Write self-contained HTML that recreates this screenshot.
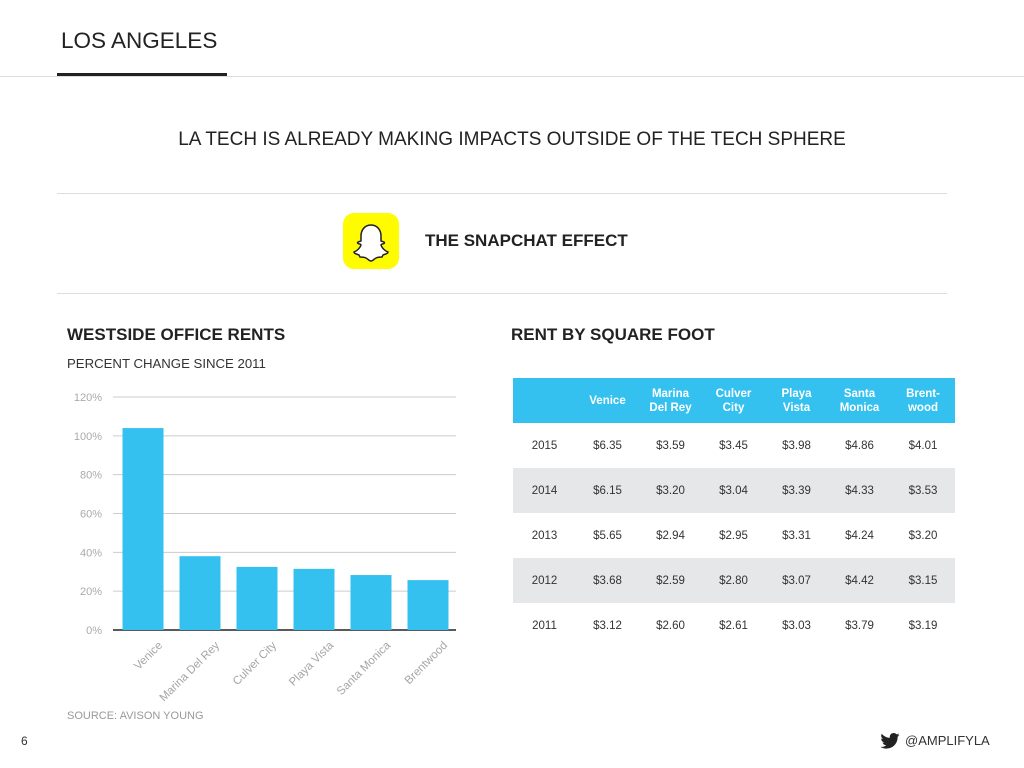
<!DOCTYPE html>
<html><head><meta charset="utf-8"><style>
body{margin:0;width:1024px;height:768px;background:#fff;font-family:"Liberation Sans",sans-serif;position:relative;overflow:hidden;color:#222}
.a{position:absolute}
table{border-collapse:collapse;font-size:11.5px;color:#333}
td,th{text-align:center;padding:0;height:45px}
th{background:#35c1ef;color:#fff;font-weight:bold;font-size:11.5px;height:45px;line-height:14px}
tr.g td{background:#e6e7e9}
</style></head><body>
<div class="a" style="left:61px;top:28px;font-size:22.5px;color:#222">LOS ANGELES</div>
<div class="a" style="left:57px;top:73px;width:170px;height:3px;background:#222"></div>
<div class="a" style="left:0;top:76px;width:1024px;height:1px;background:#ddd"></div>
<div class="a" style="left:0;width:1024px;top:129px;text-align:center;font-size:19px;color:#222">LA TECH IS ALREADY MAKING IMPACTS OUTSIDE OF THE TECH SPHERE</div>
<div class="a" style="left:57px;top:193px;width:890px;height:1px;background:#ddd"></div>
<div class="a" style="left:57px;top:293px;width:890px;height:1px;background:#ddd"></div>
<svg class="a" style="left:343px;top:213px" width="56" height="56" viewBox="0 0 56 56"><rect width="56" height="56" rx="11" fill="#fffc00"/><path d="M28 12c-7 0-10 6-10 11v5l-3 1c-1 1 0 2 2 2l1 1c-1 3-4 6-7 7 0 2 3 2 5 3l1 2c2 0 4 0 6 1 2 1 3 3 5 3s3-2 5-3c2-1 4-1 6-1l1-2c2-1 5-1 5-3-3-1-6-4-7-7l1-1c2 0 3-1 2-2l-3-1v-5c0-5-3-11-10-11z" fill="#fff" stroke="#222" stroke-width="1.5"/></svg>
<div class="a" style="left:425px;top:231px;font-size:17px;font-weight:bold">THE SNAPCHAT EFFECT</div>
<div class="a" style="left:67px;top:325px;font-size:17px;font-weight:bold">WESTSIDE OFFICE RENTS</div>
<div class="a" style="left:67px;top:356px;font-size:13.2px;color:#333">PERCENT CHANGE SINCE 2011</div>
<svg class="a" id="chart" style="left:0;top:0" width="1024" height="768"></svg>
<div class="a" style="left:67px;top:710px;font-size:11px;color:#999">SOURCE: AVISON YOUNG</div>
<div class="a" style="left:511px;top:325px;font-size:17px;font-weight:bold">RENT BY SQUARE FOOT</div>
<table class="a" style="left:513px;top:378px;width:442px">
<tr><th style="width:63px"></th><th style="width:63px">Venice</th><th style="width:63px">Marina<br>Del Rey</th><th style="width:63px">Culver<br>City</th><th style="width:63px">Playa<br>Vista</th><th style="width:63px">Santa<br>Monica</th><th>Brent-<br>wood</th></tr>
<tr><td>2015</td><td>$6.35</td><td>$3.59</td><td>$3.45</td><td>$3.98</td><td>$4.86</td><td>$4.01</td></tr>
<tr class="g"><td>2014</td><td>$6.15</td><td>$3.20</td><td>$3.04</td><td>$3.39</td><td>$4.33</td><td>$3.53</td></tr>
<tr><td>2013</td><td>$5.65</td><td>$2.94</td><td>$2.95</td><td>$3.31</td><td>$4.24</td><td>$3.20</td></tr>
<tr class="g"><td>2012</td><td>$3.68</td><td>$2.59</td><td>$2.80</td><td>$3.07</td><td>$4.42</td><td>$3.15</td></tr>
<tr><td>2011</td><td>$3.12</td><td>$2.60</td><td>$2.61</td><td>$3.03</td><td>$3.79</td><td>$3.19</td></tr>
</table>
<div class="a" style="left:21px;top:734px;font-size:12px;color:#333">6</div>
<svg class="a" style="left:880px;top:733px" width="20" height="16" viewBox="0 0 24 20"><path d="M24 2.4c-.9.4-1.8.7-2.8.8 1-.6 1.8-1.6 2.2-2.7-1 .6-2 1-3.1 1.2C19.3.7 18 0 16.6 0c-2.7 0-4.9 2.2-4.9 4.9 0 .4 0 .8.1 1.1C7.7 5.8 4.1 3.9 1.7.9c-.4.7-.7 1.6-.7 2.5 0 1.7.9 3.2 2.2 4.1-.8 0-1.6-.2-2.2-.6v.1c0 2.4 1.7 4.4 3.9 4.8-.4.1-.8.2-1.3.2-.3 0-.6 0-.9-.1.6 2 2.4 3.4 4.6 3.4-1.7 1.3-3.8 2.1-6.1 2.1-.4 0-.8 0-1.2-.1 2.2 1.4 4.8 2.2 7.5 2.2 9.1 0 14-7.5 14-14v-.6c1-.7 1.8-1.6 2.5-2.5z" fill="#222"/></svg>
<div class="a" style="left:905px;top:733px;font-size:13px;color:#333">@AMPLIFYLA</div>
<script>
const categories=["Venice","Marina Del Rey","Culver City","Playa Vista","Santa Monica","Brentwood"];
const values=[104,38,32.5,31.5,28.3,25.7];
const ticks=[0,20,40,60,80,100,120];
const tickLabels=["0%","20%","40%","60%","80%","100%","120%"];
const svg=document.getElementById('chart');const NS="http://www.w3.org/2000/svg";
const y0=630,yTop=397,gx0=113,gx1=456,bx0=114.5,band=57;
const y=v=>y0-(v/120)*(y0-yTop);
const x=i=>bx0+band*i+band*0.5;
function mk(t,a){const e=document.createElementNS(NS,t);for(const k in a)e.setAttribute(k,a[k]);svg.appendChild(e);return e;}
ticks.forEach((t,i)=>{
 const l=mk('line',{x1:gx0,x2:gx1,y1:y(t),y2:y(t),stroke:t===0?'#222':'#ccc','stroke-width':t===0?1.5:1});
 
 
 const tx=mk('text',{x:102,y:y(t)+4,'text-anchor':'end','font-size':11,fill:'#aaa','font-family':'Liberation Sans'});
 tx.textContent=tickLabels[i];
 
 
});
categories.forEach((c,i)=>{
 const w=41;
 const r=mk('rect',{x:x(i)-w/2,y:y(values[i]),width:w,height:y0-y(values[i]),fill:'#35c1ef'});
 
 
 const lx=x(i)+20,ly=y0+16;
 const tx=mk('text',{x:lx,y:ly,'text-anchor':'end','font-size':11.5,fill:'#a5a5a5','font-family':'Liberation Sans',transform:`rotate(-45 ${lx} ${ly})`});
 tx.textContent=c;
 
 
});
</script>
</body></html>
